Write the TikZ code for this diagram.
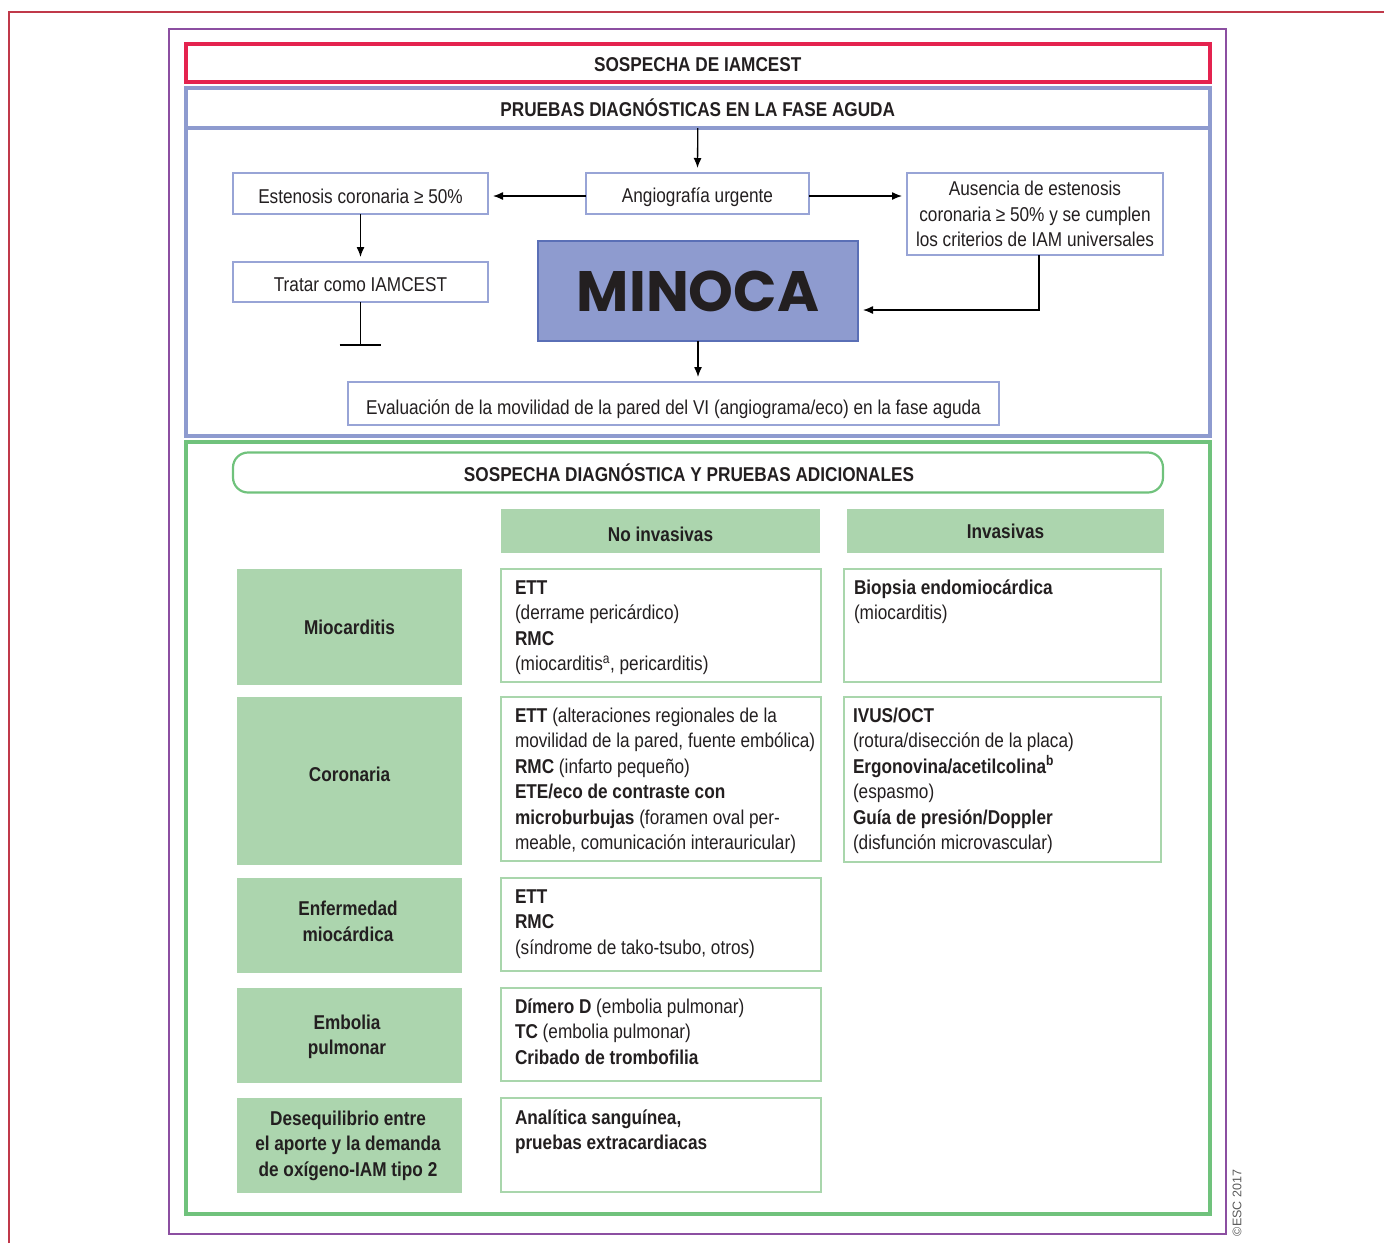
\documentclass[tikz,border=0pt]{standalone}
\usepackage{fontspec}
\setmainfont{Liberation Sans}[FakeStretch=0.86, BoldFeatures={FakeStretch=0.86}]
\newfontfamily\minfont{Poppins}
\newfontfamily\copyfont{Liberation Sans}
\usetikzlibrary{arrows.meta,calc}
\newcommand\lowered[2]{\raisebox{-#1}[\height][\depth]{#2}}
\definecolor{crim}{HTML}{E4234F}
\definecolor{thinred}{HTML}{C0394A}
\definecolor{purp}{HTML}{8C4FA1}
\definecolor{fblue}{HTML}{8E9BCF}
\definecolor{nblue}{HTML}{98A4D6}
\definecolor{mblue}{HTML}{5A6FB6}
\definecolor{fgreen}{HTML}{70C27C}
\definecolor{lgreen}{HTML}{ACD5AE}
\definecolor{bgreen}{HTML}{A9D6AC}
\definecolor{txt}{HTML}{231F20}
\tikzset{
  every node/.style={font=\fontsize{20}{25.5}\selectfont, text=txt, inner sep=0pt, outer sep=0pt},
  bigframe/.style={draw=#1, line width=4pt, minimum width=1023.5pt},
  flowbox/.style={draw=nblue, line width=2pt, fill=white, align=center},
  lab/.style={fill=lgreen, align=center, font=\fontsize{20}{25.5}\selectfont\bfseries, minimum width=225pt},
  labtxt/.style={align=center, font=\fontsize{20}{25.5}\selectfont\bfseries},
  colhead/.style={fill=lgreen, font=\fontsize{20}{25.5}\selectfont\bfseries, minimum height=44pt},
  gbox/.style={draw=bgreen, line width=2pt},
  bodytxt/.style={anchor=north west, align=left},
  arr/.style={draw=black, line width=1.3pt, -{Latex[length=10pt,width=8pt]}, shorten >=5pt},
  plain/.style={draw=black, line width=1.3pt}
}
\begin{document}
\begin{tikzpicture}[x=1pt,y=-1pt]
\useasboundingbox (0,0) rectangle (1384,1243);
% page border line
\draw[thinred, line width=1.3pt] (9,1243) -- (9,12) -- (1384,12);
% purple frame
\node[draw=purp, line width=2.3pt, minimum width=1057pt, minimum height=1205pt] (purple) at (697.5,631.5) {};
% top frames
\node[bigframe=crim, minimum height=37.8pt, font=\fontsize{20}{25.5}\selectfont\bfseries] (s1) at (697.75,62.6) {\lowered{2pt}{SOSPECHA DE IAMCEST}};
\node[bigframe=fblue, minimum height=308pt] (blu) at (697.75,282) {};
\node[bigframe=fblue, minimum height=40pt, font=\fontsize{20}{25.5}\selectfont\bfseries] (pr) at (697.75,108) {PRUEBAS DIAGNÓSTICAS EN LA FASE AGUDA};
\node[bigframe=fgreen, minimum height=772.5pt] (grn) at (697.75,827.75) {};
% flow nodes
\node[flowbox, minimum width=223pt, minimum height=41pt] (ang) at (697.5,193.5) {\lowered{4pt}{Angiografía urgente}};
\node[flowbox, minimum width=255pt, minimum height=41pt] (est) at (360.5,193.5) {\lowered{2.5pt}{Estenosis coronaria ≥ 50\%}};
\node[flowbox, minimum width=256pt, minimum height=82pt] (aus) at (1035,214) {Ausencia de estenosis\\coronaria ≥ 50\% y se cumplen\\los criterios de IAM universales};
\node[flowbox, minimum width=255pt, minimum height=40pt] (tra) at (360.5,282) {\lowered{3pt}{Tratar como IAMCEST}};
\node[draw=mblue, fill=fblue, line width=2pt, minimum width=320pt, minimum height=100pt, font=\minfont\bfseries\fontsize{57}{60}\selectfont] (minoca) at (698,291) {MINOCA};
\node[flowbox, minimum width=651pt, minimum height=43pt] (eva) at (673.5,403.5) {\lowered{5.5pt}{Evaluación de la movilidad de la pared del VI (angiograma/eco) en la fase aguda}};
% connectors
\draw[arr] (pr.south) -- (ang.north);
\draw[arr] ([yshift=-2.5pt]ang.west) -- ([yshift=-2.5pt]ang.west -| est.east);
\draw[arr] ([yshift=-2.5pt]ang.east) -- ([yshift=-2.5pt]ang.east -| aus.west);
\draw[arr] (est.south) -- (tra.north);
\coordinate (tend) at (360.5,345);
\draw[plain] (tra.south) -- (tend);
\draw[plain] ([xshift=-21pt]tend) -- ([xshift=20pt]tend);
\draw[arr] ([xshift=4pt]aus.south) |- ([yshift=-19pt]minoca.east);
\draw[arr] (minoca.south) -- (minoca.south |- eva.north);
% green section
\node[draw=fgreen, line width=2.2pt, rounded corners=15pt, minimum width=930pt, minimum height=40pt, font=\fontsize{20}{25.5}\selectfont\bfseries] (rb) at (698,472.5) {\kern-18pt SOSPECHA DIAGNÓSTICA Y PRUEBAS ADICIONALES};
\node[colhead, minimum width=319pt] (ni) at (660.5,531) {\lowered{3pt}{No invasivas}};
\node[colhead, minimum width=317pt] (inv) at (1005.5,531) {Invasivas};
% left labels
\node[lab, minimum height=116pt] (l1) at (349.5,627) {Miocarditis};
\node[lab, minimum height=168pt] (l2) at (349.5,781) {};
\node[labtxt] (l2t) at (349.5,774) {Coronaria};
\node[lab, minimum height=95pt] (l3) at (349.5,925.5) {};
\node[labtxt] (l3t) at (348,921.5) {Enfermedad\\miocárdica};
\node[lab, minimum height=95pt] (l4) at (349.5,1035.5) {};
\node[labtxt] (l4t) at (347,1037) {Embolia\\pulmonar};
\node[lab, minimum height=95pt] (l5) at (349.5,1145.5) {};
\node[labtxt] (l5t) at (348,1145.5) {Desequilibrio entre\\el aporte y la demanda\\de oxígeno-IAM tipo 2};
% middle boxes
\node[gbox, minimum width=320pt, minimum height=113pt] (m1) at (661,625.5) {};
\node[gbox, minimum width=320pt, minimum height=164pt] (m2) at (661,779) {};
\node[gbox, minimum width=320pt, minimum height=93pt] (m3) at (661,924.5) {};
\node[gbox, minimum width=320pt, minimum height=93pt] (m4) at (661,1034.5) {};
\node[gbox, minimum width=320pt, minimum height=94pt] (m5) at (661,1145) {};
% right boxes
\node[gbox, minimum width=317pt, minimum height=113pt] (r1) at (1002.5,625.5) {};
\node[gbox, minimum width=317pt, minimum height=165pt] (r2) at (1002.5,779.5) {};
% texts
\node[bodytxt] (t1) at ([shift={(14pt,-7.6pt)}]m1.north west) {\strut\textbf{ETT}\\(derrame pericárdico)\\\textbf{RMC}\\(miocarditis\textsuperscript{a}, pericarditis)};
\node[bodytxt] (t2) at ([shift={(14pt,-7.6pt)}]m2.north west) {\strut\textbf{ETT} (alteraciones regionales de la\\movilidad de la pared, fuente embólica)\\\textbf{RMC} (infarto pequeño)\\\textbf{ETE/eco de contraste con}\\\textbf{microburbujas} (foramen oval per-\\meable, comunicación interauricular)};
\node[bodytxt] (t3) at ([shift={(14pt,-7.6pt)}]m3.north west) {\strut\textbf{ETT}\\\textbf{RMC}\\(síndrome de tako-tsubo, otros)};
\node[bodytxt] (t4) at ([shift={(14pt,-7.6pt)}]m4.north west) {\strut\textbf{Dímero D} (embolia pulmonar)\\\textbf{TC} (embolia pulmonar)\\\textbf{Cribado de trombofilia}};
\node[bodytxt] (t5) at ([shift={(14pt,-8.6pt)}]m5.north west) {\strut\textbf{Analítica sanguínea,}\\\textbf{pruebas extracardiacas}};
\node[bodytxt] (t6) at ([shift={(10pt,-7.6pt)}]r1.north west) {\strut\textbf{Biopsia endomiocárdica}\\(miocarditis)};
\node[bodytxt] (t7) at ([shift={(9pt,-7.6pt)}]r2.north west) {\strut\textbf{IVUS/OCT}\\(rotura/disección de la placa)\\\textbf{Ergonovina/acetilcolina\textsuperscript{b}}\\(espasmo)\\\textbf{Guía de presión/Doppler}\\(disfunción microvascular)};
% copyright
\node[rotate=90, font=\copyfont\fontsize{12.5}{14}\selectfont, text=black!65] (copy) at (1237,1203) {©ESC 2017};
\end{tikzpicture}
\end{document}
